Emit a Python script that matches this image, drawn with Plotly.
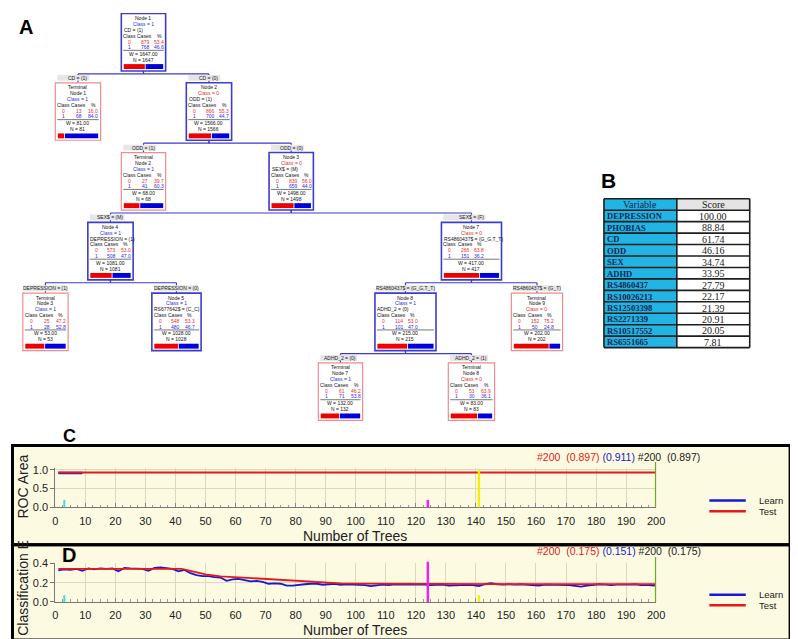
import plotly.graph_objects as go

# ======================= DATA =======================
# ---- Panel A : classification tree ----
node_labels = ["Node 1", "Node 1", "Node 2", "Node 2", "Node 3", "Node 4", "Node 7",
               "Node 3", "Node 5", "Node 8", "Node 9", "Node 7", "Node 8"]
node_is_terminal = [False, True, False, True, False, False, False,
                    True, False, False, True, True, True]
node_parent = [None, 0, 0, 2, 2, 4, 4, 5, 5, 6, 6, 9, 9]
node_class = [1, 1, 0, 1, 0, 1, 0, 1, 1, 1, 0, 1, 0]
node_split = ["CD = (1)", "", "ODD = (1)", "", "SEX$ = (M)", "DEPRESSION = (1)",
              "RS4860437$ = (G_G,T_T)", "", "RS677642$ = (C_C)", "ADHD_2 = (0)", "", "", ""]
edge_labels = [None, "CD = (1)", "CD = (0)", "ODD = (1)", "ODD = (0)", "SEX$ = (M)", "SEX$ = (F)",
               "DEPRESSION = (1)", "DEPRESSION = (0)", "RS4860437$ = (G_G,T_T)",
               "RS4860437$ = (G_T)", "ADHD_2 = (0)", "ADHD_2 = (1)"]
class0_cases = [879, 13, 866, 27, 839, 573, 266, 25, 548, 114, 152, 61, 53]
class0_pct = [53.4, 16.0, 55.3, 39.7, 56.0, 53.0, 63.8, 47.2, 53.3, 53.0, 75.2, 46.2, 63.9]
class1_cases = [768, 68, 700, 41, 659, 508, 151, 28, 480, 101, 50, 71, 30]
class1_pct = [46.6, 84.0, 44.7, 60.3, 44.0, 47.0, 36.2, 52.8, 46.7, 47.0, 24.8, 53.8, 36.1]
node_weight = [1647, 81, 1566, 68, 1498, 1081, 417, 53, 1028, 215, 202, 132, 83]
node_n = [1647, 81, 1566, 68, 1498, 1081, 417, 53, 1028, 215, 202, 132, 83]

# ---- Panel B : variable importance ----
variables = ["DEPRESSION", "PHOBIAS", "CD", "ODD", "SEX", "ADHD", "RS4860437",
             "RS10026213", "RS12503398", "RS2271339", "RS10517552", "RS6551665"]
scores = [100.00, 88.84, 61.74, 46.16, 34.74, 33.95, 27.79, 22.17, 21.39, 20.91, 20.05, 7.81]

# ---- Panel C : ROC area vs number of trees ----
roc_test_trees = [1, 200]
roc_test = [0.93, 0.93]
roc_learn_trees = [1, 9]
roc_learn = [0.915, 0.915]
roc_best_tree = 200
roc_test_best = 0.897
roc_learn_best = 0.911
roc_marker_trees = [3, 124, 141, 200]
roc_marker_tops = [0.2, 0.2, 1.0, 1.21]

# ---- Panel D : classification error vs number of trees ----
err_learn_trees = list(range(1, 200, 2)) + [200]
err_learn = [
    0.330, 0.340, 0.335, 0.345, 0.325, 0.350, 0.340, 0.350, 0.345, 0.350,
    0.320, 0.355, 0.350, 0.345, 0.345, 0.325, 0.355, 0.360, 0.350, 0.345,
    0.320, 0.335, 0.300, 0.280, 0.270, 0.270, 0.260, 0.255, 0.220, 0.235,
    0.240, 0.225, 0.215, 0.220, 0.210, 0.190, 0.195, 0.190, 0.170, 0.170,
    0.180, 0.185, 0.190, 0.190, 0.180, 0.185, 0.190, 0.180, 0.185, 0.180,
    0.180, 0.175, 0.165, 0.175, 0.180, 0.175, 0.185, 0.180, 0.180, 0.185,
    0.185, 0.180, 0.175, 0.180, 0.180, 0.170, 0.175, 0.180, 0.178, 0.175,
    0.165, 0.185, 0.195, 0.185, 0.180, 0.185, 0.180, 0.185, 0.178, 0.175,
    0.170, 0.180, 0.180, 0.175, 0.178, 0.175, 0.168, 0.160, 0.170, 0.178,
    0.185, 0.180, 0.175, 0.180, 0.178, 0.182, 0.185, 0.175, 0.178, 0.170,
    0.175]
err_test_trees = [1, 5, 10, 15, 20, 25, 30, 35, 40, 42, 45, 48, 50, 55, 60, 65, 70, 75, 80,
                  85, 90, 95, 100, 110, 120, 130, 140, 150, 160, 170, 180, 190, 200]
err_test = [0.345, 0.345, 0.345, 0.346, 0.346, 0.347, 0.347, 0.348, 0.347, 0.345,
            0.325, 0.300, 0.288, 0.268, 0.258, 0.248, 0.237, 0.228, 0.218, 0.208,
            0.199, 0.194, 0.191, 0.189, 0.188, 0.187, 0.187, 0.187, 0.187, 0.187,
            0.187, 0.187, 0.187]
err_best_tree = 200
err_test_best = 0.175
err_learn_best = 0.151
err_marker_trees = [3, 124, 141, 200]
err_marker_tops = [0.07, 0.42, 0.07, 0.47]

x_ticks = list(range(0, 201, 10))

# ======================= STYLE / LAYOUT =======================
FW, FH = 798, 639
SANS = "Liberation Sans, Arial, sans-serif"
SERIF = "Liberation Serif, Times New Roman, serif"
RED = "#e81818"
BLUE = "#1818d8"
TXT_RED = "#f02a2a"
TXT_BLUE = "#2a2ae8"
NODE_BLUE = "#3d3dcc"
NODE_PINK = "#f08c8c"
CREAM = "#fcfbe1"
GRID = "#dcd9bf"
CYAN_CELL = "#22b4e2"
marker_colors = ["#40dede", "#ee22ee", "#f2ee10", "#6aac2a"]

node_cx = [134.5, 68, 201, 134.5, 284.5, 101, 467.5, 35, 168, 400.5, 534, 334.5, 467.5]
node_top = [0.5, 71, 71, 142, 142, 213, 213, 285, 285, 285, 285, 356, 356]
node_w = [45, 46, 46, 45, 45, 46, 61, 46, 50, 62, 52, 45, 47]
NODE_H = 58.5

shapes = []
annos = []


def P(x, y):
    return x / FW, 1 - y / FH


def T(x, y, text, size=5, color="#111", xanchor="center", family=SANS, **kw):
    annos.append(dict(x=x, y=y, xref="x3", yref="y3", text=text, showarrow=False,
                      font=dict(family=family, size=size, color=color),
                      xanchor=xanchor, yanchor="middle", borderpad=0, **kw))


def RECT(x0, y0, x1, y1, line=None, lw=1, fill=None):
    shapes.append(dict(type="rect", xref="x3", yref="y3", x0=x0, y0=y0, x1=x1, y1=y1,
                       line=dict(color=line or "rgba(0,0,0,0)", width=lw if line else 0),
                       fillcolor=fill or "rgba(0,0,0,0)", layer="above"))


def LINE(x0, y0, x1, y1, color, lw=1):
    shapes.append(dict(type="line", xref="x3", yref="y3", x0=x0, y0=y0, x1=x1, y1=y1,
                       line=dict(color=color, width=lw), layer="above"))


# ---------- Panel A : tree ----------
for i, par in enumerate(node_parent):
    if par is None:
        continue
    pb = node_top[par] + NODE_H
    yh = pb + 3
    LINE(node_cx[par], pb, node_cx[par], yh, NODE_BLUE, 1.2)
    LINE(node_cx[par], yh, node_cx[i], yh, NODE_BLUE, 1.2)
    LINE(node_cx[i], yh, node_cx[i], node_top[i], NODE_BLUE, 1.2)

for i, lab in enumerate(edge_labels):
    if lab is None:
        continue
    tw = 2.62 * len(lab)
    cx = node_cx[i]
    l = cx - node_w[i] / 2
    y = node_top[i] - 5
    RECT(min(l + 2, cx - tw / 2 - 1), y - 3, cx + tw / 2 + 1, y + 3, fill="#e6e6e6")
    T(cx, y, lab, size=5, color="#222")

for i in range(len(node_labels)):
    cx, top, w = node_cx[i], node_top[i], node_w[i]
    l, r = cx - w / 2, cx + w / 2
    term = node_is_terminal[i]
    RECT(l, top, r, top + NODE_H, line=NODE_PINK if term else NODE_BLUE,
         lw=1.2 if term else 1.6, fill="white")
    cls_txt = "Class = %d" % node_class[i]
    cls_col = TXT_BLUE if node_class[i] == 1 else TXT_RED
    if term:
        T(cx, top + 4.5, "Terminal")
        T(cx, top + 10.5, node_labels[i])
        T(cx, top + 16.5, cls_txt, color=cls_col)
    else:
        T(cx, top + 4.5, node_labels[i])
        T(cx, top + 10.5, cls_txt, color=cls_col)
        T(l + 1.5, top + 16.5, node_split[i], xanchor="left")
    T(l + 8.5, top + 22.5, "Class")
    T(l + 24, top + 22.5, "Cases")
    T(l + 38.5, top + 22.5, "%")
    T(l + 8.5, top + 28.5, "0", color=TXT_RED)
    T(l + 24.5, top + 28.5, str(class0_cases[i]), color=TXT_RED)
    T(l + 38.5, top + 28.5, "%.1f" % class0_pct[i], color=TXT_RED)
    T(l + 8.5, top + 34, "1", color=TXT_BLUE)
    T(l + 24.5, top + 34, str(class1_cases[i]), color=TXT_BLUE)
    T(l + 38.5, top + 34, "%.1f" % class1_pct[i], color=TXT_BLUE)
    LINE(l + 2, top + 37.5, r - 2, top + 37.5, "#555", 0.8)
    T(cx, top + 41, "W = %.2f" % node_weight[i])
    T(cx, top + 47, "N = %d" % node_n[i])
    bl, br = l + 2.5, r - 2.5
    split = bl + (br - bl) * class0_pct[i] / 100.0
    RECT(bl, top + 51.5, split, top + 56.5, fill="#ee0000")
    RECT(split + 0.8, top + 51.5, br, top + 56.5, fill="#0000dd")

# ---------- Panel B : table ----------
tx0, tx1, tx2 = 602, 676, 750
ty0 = 189
rh = 11.65
n_rows = len(variables) + 1
RECT(tx0, ty0, tx1, ty0 + rh, fill=CYAN_CELL)
RECT(tx1, ty0, tx2, ty0 + rh, fill="#e4e4e4")
for k in range(len(variables)):
    y0 = ty0 + rh * (k + 1)
    RECT(tx0, y0, tx1, y0 + rh, fill=CYAN_CELL)
    RECT(tx1, y0, tx2, y0 + rh, fill="white")
for k in range(n_rows + 1):
    LINE(tx0, ty0 + rh * k, tx2, ty0 + rh * k, "#1e1e1e", 1.6)
for xx in (tx0, tx1, tx2):
    LINE(xx, ty0, xx, ty0 + rh * n_rows, "#1e1e1e", 1.6)
T((tx0 + tx1) / 2, ty0 + rh / 2 + 0.5, "Variable", size=10, color="#142650", family=SERIF)
T((tx1 + tx2) / 2, ty0 + rh / 2 + 0.5, "Score", size=10, color="#222", family=SERIF)
for k, (v, s) in enumerate(zip(variables, scores)):
    yc = ty0 + rh * (k + 1) + rh / 2 + 0.5
    T(tx0 + 2, yc, "<b>%s</b>" % v, size=8.6, color="#142650", family=SERIF, xanchor="left")
    T((tx1 + tx2) / 2, yc, "%.2f" % s, size=10, color="#1a1a1a", family=SERIF)

# panel letters
T(15.5, 14.5, "<b>A</b>", size=20, color="#000", family=SANS)
T(607, 170, "<b>B</b>", size=21, color="#000", family=SANS)
T(59, 430, "<b>C</b>", size=18, color="#000", family=SANS)
T(58.5, 551, "<b>D</b>", size=20, color="#000", family=SANS)

# ---------- Panels C & D : frames ----------
for (y0, y1) in [(440, 541), (541, 638)]:
    a0 = P(1.5, y0)
    a1 = P(791, y1)
    shapes.append(dict(type="rect", xref="paper", yref="paper", x0=a0[0], y0=a1[1], x1=a1[0], y1=a0[1],
                       fillcolor=CREAM, line=dict(width=0), layer="below"))
for (y0, y1) in [(440, 541), (541, 638)]:
    a0 = P(1.5, y0)
    a1 = P(791, y1)
    shapes.append(dict(type="rect", xref="paper", yref="paper", x0=a0[0], y0=a1[1], x1=a1[0], y1=a0[1],
                       fillcolor="rgba(0,0,0,0)", line=dict(color="#000", width=3), layer="above"))

C_YMAX, D_YMAX = 1.05, 0.41
for t, top, col in zip(roc_marker_trees, roc_marker_tops, marker_colors):
    shapes.append(dict(type="line", xref="x", yref="y domain", x0=t, x1=t, y0=0, y1=top / C_YMAX,
                       line=dict(color=col, width=2.5 if col != marker_colors[0] else 2), layer="above"))
for t, top, col in zip(err_marker_trees, err_marker_tops, marker_colors):
    shapes.append(dict(type="line", xref="x2", yref="y2 domain", x0=t, x1=t, y0=0, y1=top / D_YMAX,
                       line=dict(color=col, width=2.5 if col != marker_colors[0] else 2), layer="above"))


def summary(best, test_v, learn_v, y):
    nb = "\u00a0"
    txt = ("<span style='color:%s'>#%d%s(%.3f)</span>%s<span style='color:%s'>(%.3f)</span>%s"
           "<span style='color:#222'>#%d%s(%.3f)</span>") % (
        RED, best, nb * 2, test_v, nb, BLUE, learn_v, nb, best, nb * 2, test_v)
    T(533, y, txt, size=10.5, color="#222", xanchor="left")


summary(roc_best_tree, roc_test_best, roc_learn_best, 452)
summary(err_best_tree, err_test_best, err_learn_best, 547)

# legends
for (yl, yt) in [(496, 507), (592, 602.5)]:
    LINE(709, yl, 746, yl, BLUE, 2.5)
    LINE(709, yt, 746, yt, RED, 2.5)
    T(758, yl, "Learn", size=9.5, color="#222", xanchor="left")
    T(758, yt + 0.5, "Test", size=9.5, color="#222", xanchor="left")

# axis titles
T(12, 482, "ROC Area", size=14, color="#222", textangle=-90)
T(12, 585, "Classification E", size=14, color="#222", textangle=-90)
T(349, 532, "Number of Trees", size=14, color="#222")
T(349, 628, "Number of Trees", size=14, color="#222")

# ======================= FIGURE =======================
fig = go.Figure()
fig.add_trace(go.Scatter(x=roc_learn_trees, y=roc_learn, mode="lines", line=dict(color=BLUE, width=2.5),
                         xaxis="x", yaxis="y", hoverinfo="skip", showlegend=False))
fig.add_trace(go.Scatter(x=roc_test_trees, y=roc_test, mode="lines", line=dict(color=RED, width=2),
                         xaxis="x", yaxis="y", hoverinfo="skip", showlegend=False))
fig.add_trace(go.Scatter(x=err_learn_trees, y=err_learn, mode="lines", line=dict(color=BLUE, width=1.8),
                         xaxis="x2", yaxis="y2", hoverinfo="skip", showlegend=False))
fig.add_trace(go.Scatter(x=err_test_trees, y=err_test, mode="lines", line=dict(color=RED, width=1.8),
                         xaxis="x2", yaxis="y2", hoverinfo="skip", showlegend=False))
fig.add_trace(go.Scatter(x=node_cx, y=node_top, mode="markers", marker=dict(opacity=0),
                         xaxis="x3", yaxis="y3", hoverinfo="skip", showlegend=False))

xdom = [45 / FW, 655 / FW]
tick_font = dict(family=SANS, size=11, color="#222")


def xaxis_cfg(anchor):
    return dict(domain=xdom, anchor=anchor, range=[0, 200], tickvals=x_ticks,
                showgrid=True, gridcolor=GRID, gridwidth=1, zeroline=False,
                showline=True, linecolor="#777", linewidth=1,
                ticks="inside", ticklen=4, tickcolor="#888", tickfont=tick_font,
                ticklabelstandoff=3,
                minor=dict(dtick=2.5, ticks="inside", ticklen=2.5, tickcolor="#999", showgrid=False),
                fixedrange=True)


def yaxis_cfg(anchor, dom, ymax, tv):
    return dict(domain=dom, anchor=anchor, range=[0, ymax], tickvals=tv,
                ticktext=["%.1f" % v for v in tv], showgrid=True, gridcolor=GRID,
                zeroline=False, showline=True, linecolor="#777", linewidth=1,
                ticks="outside", ticklen=4, tickcolor="#777", tickfont=tick_font, fixedrange=True)


fig.update_layout(
    width=FW, height=FH, autosize=False,
    margin=dict(l=0, r=0, t=0, b=0),
    paper_bgcolor="white", plot_bgcolor="rgba(0,0,0,0)",
    showlegend=False,
    xaxis=xaxis_cfg("y"),
    yaxis=yaxis_cfg("x", [1 - 503 / FH, 1 - 463 / FH], C_YMAX, [0.0, 0.5, 1.0]),
    xaxis2=xaxis_cfg("y2"),
    yaxis2=yaxis_cfg("x2", [1 - 599.3 / FH, 1 - 559.3 / FH], D_YMAX, [0.0, 0.2, 0.4]),
    xaxis3=dict(domain=[0, 1], anchor="y3", range=[0, FW], visible=False, fixedrange=True),
    yaxis3=dict(domain=[0, 1], anchor="x3", range=[FH, 0], visible=False, fixedrange=True),
    shapes=shapes,
    annotations=annos,
)

fig.write_html("out.html")
